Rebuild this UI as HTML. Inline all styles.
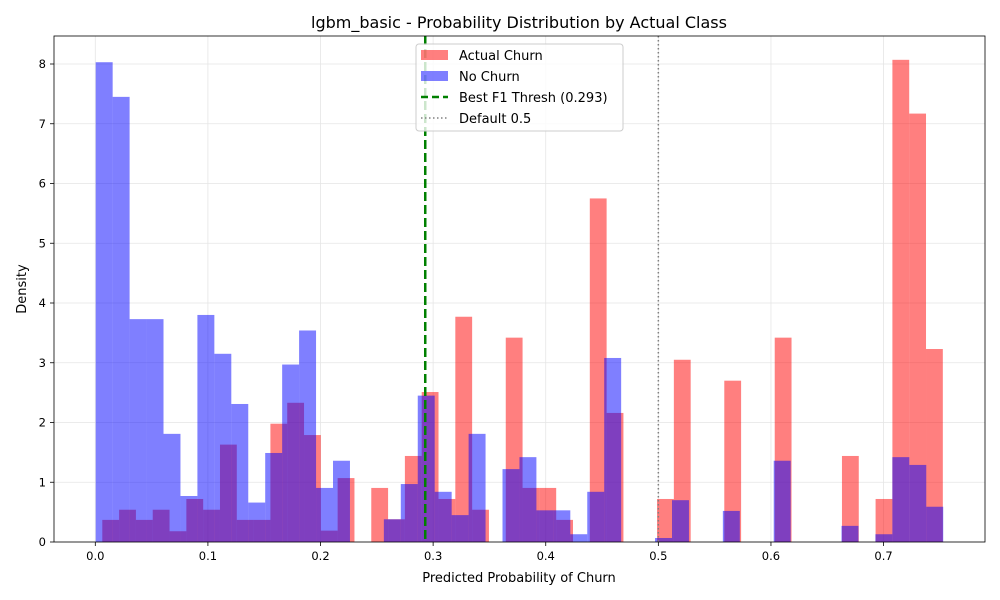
<!DOCTYPE html>
<html><head><meta charset="utf-8"><style>
body{margin:0;background:#fff;}
svg{display:block;font-family:"DejaVu Sans","Liberation Sans",sans-serif;}
</style></head><body>
<svg id="chart" width="1000" height="600" viewBox="0 0 1000 600">
<rect width="1000" height="600" fill="#fff"/>
<text x="519" y="28" font-size="16" text-anchor="middle">lgbm_basic - Probability Distribution by Actual Class</text>
<g id="grid"></g>
<g id="bars"></g>
<g id="axes"></g>
<text x="519" y="582" font-size="13" text-anchor="middle">Predicted Probability of Churn</text>
<text x="26" y="289" font-size="13" text-anchor="middle" transform="rotate(-90 26 289)">Density</text>
<g id="legend">
<rect x="416" y="44" width="207" height="87" rx="3" fill="#fff" fill-opacity="0.8" stroke="#ccc"/>
<rect x="421" y="50" width="27" height="10" fill="#ff0000" fill-opacity="0.5"/>
<text x="459" y="60" font-size="13">Actual Churn</text>
<rect x="421" y="71" width="27" height="10" fill="#0000ff" fill-opacity="0.5"/>
<text x="459" y="81" font-size="13">No Churn</text>
<line x1="421" y1="97" x2="448" y2="97" stroke="green" stroke-width="2.5" stroke-dasharray="7,4"/>
<text x="459" y="102" font-size="13">Best F1 Thresh (0.293)</text>
<line x1="421" y1="118" x2="448" y2="118" stroke="gray" stroke-width="1.5" stroke-dasharray="1.5,2.5"/>
<text x="459" y="123" font-size="13">Default 0.5</text>
</g>
</svg>
<script>
const redStart = 0.00622, redWidth = 0.014928;
const blueStart = 0.00036, blueWidth = 0.015052;
const churnDensity = [0.37,0.54,0.37,0.54,0.18,0.72,0.54,1.63,0.37,0.37,1.98,2.33,1.79,0.19,1.07,0,0.905,0.38,1.44,2.51,0.72,3.77,0.54,0,3.42,0.905,0.905,0.37,0,5.75,2.16,0,0,0.72,3.05,0,0,2.70,0,0,3.42,0,0,0,1.44,0,0.72,8.07,7.17,3.23];
const noChurnDensity = [8.03,7.45,3.73,3.73,1.81,0.77,3.80,3.15,2.31,0.66,1.49,2.97,3.54,0.905,1.36,0,0,0.38,0.97,2.45,0.84,0.45,1.81,0,1.22,1.42,0.53,0.53,0.13,0.84,3.08,0,0,0.067,0.70,0,0,0.52,0,0,1.36,0,0,0,0.27,0,0.13,1.42,1.29,0.59];
const xTicks = [0,0.1,0.2,0.3,0.4,0.5,0.6,0.7];
const xTickLabels = ["0.0","0.1","0.2","0.3","0.4","0.5","0.6","0.7"];
const yTicks = [0,1,2,3,4,5,6,7,8];
const bestThresh = 0.293, defaultThresh = 0.5;

const L=54,R=985,T=36,B=542;
const xs = v => 95.3 + v*1126.1;
const ys = v => 542 - v*59.75;
const NS="http://www.w3.org/2000/svg";
function mk(tag, attrs, parent){const e=document.createElementNS(NS,tag);for(const k in attrs)e.setAttribute(k,attrs[k]);parent.appendChild(e);return e;}
const grid=document.getElementById('grid'),bars=document.getElementById('bars'),axes=document.getElementById('axes');
xTicks.forEach((t,i)=>{
  const gl=mk('line',{x1:xs(t),x2:xs(t),y1:T,y2:B,stroke:'#e5e5e5','stroke-width':0.8},grid);
  
  
  const tk=mk('line',{x1:xs(t),x2:xs(t),y1:B,y2:B+4,stroke:'#000','stroke-width':0.8},axes);
  
  
  const tx=mk('text',{x:xs(t),y:B+18,'font-size':11.5,'text-anchor':'middle'},axes);
  tx.textContent=xTickLabels[i];
  
  
});
yTicks.forEach(t=>{
  const gl=mk('line',{x1:L,x2:R,y1:ys(t),y2:ys(t),stroke:'#e5e5e5','stroke-width':0.8},grid);
  
  
  const tk=mk('line',{x1:L-4,x2:L,y1:ys(t),y2:ys(t),stroke:'#000','stroke-width':0.8},axes);
  
  
  const tx=mk('text',{x:L-8,y:ys(t)+4,'font-size':11.5,'text-anchor':'end'},axes);
  tx.textContent=String(t);
  
  
});
churnDensity.forEach((v,i)=>{
  if(v<=0)return;
  const x0=xs(redStart+i*redWidth),x1=xs(redStart+(i+1)*redWidth);
  const r=mk('rect',{x:x0,y:ys(v),width:x1-x0,height:ys(0)-ys(v),fill:'#ff0000','fill-opacity':0.5},bars);
  
  
});
noChurnDensity.forEach((v,i)=>{
  if(v<=0)return;
  const x0=xs(blueStart+i*blueWidth),x1=xs(blueStart+(i+1)*blueWidth);
  const r=mk('rect',{x:x0,y:ys(v),width:x1-x0,height:ys(0)-ys(v),fill:'#0000ff','fill-opacity':0.5},bars);
  
  
});
const bl=mk('line',{x1:xs(bestThresh),x2:xs(bestThresh),y1:T,y2:B,stroke:'green','stroke-width':2.5,'stroke-dasharray':'9,4'},bars);


const dl=mk('line',{x1:xs(defaultThresh),x2:xs(defaultThresh),y1:T,y2:B,stroke:'gray','stroke-width':1.5,'stroke-dasharray':'1.5,2.5'},bars);


const fr=mk('rect',{x:L,y:T,width:R-L,height:B-T,fill:'none',stroke:'#000','stroke-width':0.8},axes);


</script>
</body></html>
